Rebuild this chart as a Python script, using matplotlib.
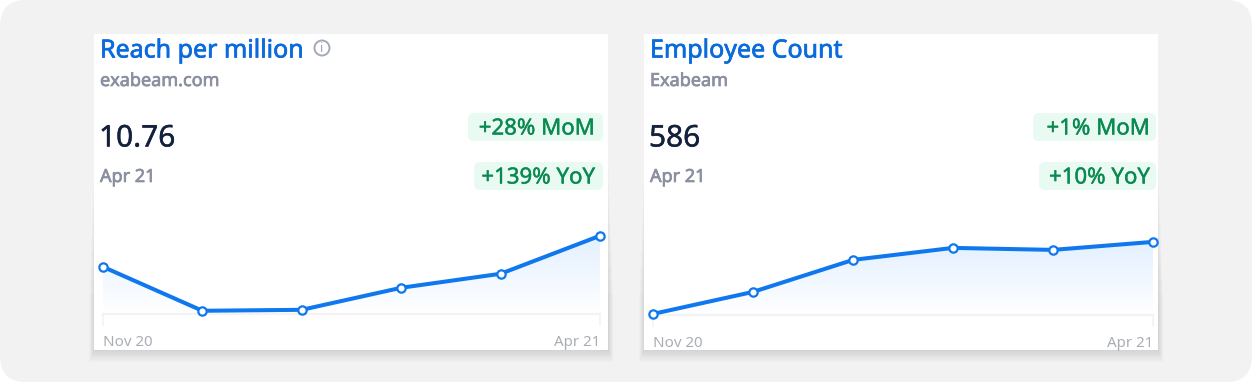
import matplotlib
matplotlib.use('Agg')
import matplotlib.pyplot as plt
import matplotlib.patheffects as pe
from matplotlib.patches import FancyBboxPatch, Rectangle, Circle
from matplotlib.colors import LinearSegmentedColormap
import numpy as np

plt.rcParams['font.family'] = ['Noto Sans', 'DejaVu Sans']

W, H = 1252, 382

months = ['Nov 20', 'Dec 20', 'Jan 21', 'Feb 21', 'Mar 21', 'Apr 21']
reach_values = [8.83, 6.10, 6.16, 7.53, 8.40, 10.76]
employee_values = [532, 548.5, 572.5, 581.5, 580, 586]

BLUE = '#0f78ee'
TITLE_BLUE = '#0a6bdc'
GREY = '#8a90a0'
DARK = '#14213d'
GREEN = '#0a8a50'
BADGE = '#e9faf2'
TICK = '#a9adb6'

fig = plt.figure(figsize=(W / 100, H / 100), dpi=100, facecolor='white')

# full figure axes working in pixels, for the panel, cards and texts
bg = fig.add_axes([0, 0, 1, 1], zorder=0)
bg.set_xlim(0, W)
bg.set_ylim(H, 0)
bg.axis('off')

bg.add_patch(FancyBboxPatch((0, 0), W, H, boxstyle='round,pad=0,rounding_size=26',
                            fc='#f2f2f2', ec='none'))


def draw_card(x0, x1, y0, y1):
    # stacked translucent rects for the soft shadow, it mostly falls below the card
    # each layer starts lower the wider it gets so no step shows on the sides
    for spread in range(10, 0, -1):
        bg.add_patch(Rectangle((x0 - spread * 0.5, y0 + 120 + spread * 14), x1 - x0 + spread,
                               y1 - y0 - 120 - spread * 14 + spread * 1.2,
                               fc='black', ec='none', alpha=0.011))
    bg.add_patch(Rectangle((x0, y0), x1 - x0, y1 - y0, fc='white', ec='none'))


def draw_badge(left, right, top, bottom, text_right, label):
    bg.add_patch(FancyBboxPatch((left, top), right - left, bottom - top,
                                boxstyle='round,pad=0,rounding_size=6', fc=BADGE, ec='none'))
    t = bg.text(text_right, (top + bottom) / 2 - 0.5, label, color=GREEN, fontsize=16, ha='right',
                va='center_baseline')
    t.set_path_effects([pe.withStroke(linewidth=0.3, foreground=GREEN)])


def draw_series(left, right, top, bottom, ymin, ymax, values):
    ax = fig.add_axes([left / W, 1 - bottom / H, (right - left) / W, (bottom - top) / H], zorder=2)
    ax.patch.set_alpha(0)
    x = np.arange(len(values))
    ax.set_xlim(0, len(values) - 1)
    ax.set_ylim(ymin, ymax)

    # gradient under the line
    cmap = LinearSegmentedColormap.from_list('fade', ['#e3f0ff', '#ffffff'])
    grad = np.linspace(0, 1, 100).reshape(-1, 1)
    img = ax.imshow(grad, extent=(0, len(values) - 1, ymin, max(values)), aspect='auto',
                    cmap=cmap, zorder=1)
    poly = ax.fill_between(x, values, ymin, color='none')
    img.set_clip_path(poly.get_paths()[0], ax.transData)
    ax.set_xlim(0, len(values) - 1)
    ax.set_ylim(ymin, ymax)

    ax.plot(x, values, color=BLUE, lw=2.9, marker='o', ms=6.0, mfc='white', mec=BLUE, mew=1.6,
            clip_on=False, zorder=3)

    for side in ['top', 'left', 'right']:
        ax.spines[side].set_visible(False)
    ax.spines['bottom'].set_color('#f3f3f4')
    ax.spines['bottom'].set_linewidth(1.5)
    ax.set_yticks([])
    ax.set_xticks([0, len(values) - 1])
    ax.set_xticklabels([months[0], months[-1]], color=TICK, fontsize=10.9)
    ax.tick_params(axis='x', length=8.5, width=1.2, color='#f3f3f4', pad=6.5)
    labels = ax.get_xticklabels()
    labels[0].set_ha('left')
    labels[1].set_ha('right')
    return ax


def draw_text(x, title, sub, value):
    t = bg.text(x, 48, title, color=TITLE_BLUE, fontsize=18, va='center_baseline')
    t.set_path_effects([pe.withStroke(linewidth=0.5, foreground=TITLE_BLUE)])
    for y, label in [(79, sub), (175, 'Apr 21')]:
        t = bg.text(x, y, label, color=GREY, fontsize=13, va='center_baseline')
        t.set_path_effects([pe.withStroke(linewidth=0.5, foreground=GREY)])
    t = bg.text(x - 1, 135.5, value, color=DARK, fontsize=21.5, va='center_baseline')
    t.set_path_effects([pe.withStroke(linewidth=0.3, foreground=DARK)])


# left card
draw_card(94, 608, 34, 350)
draw_text(100, 'Reach per million', 'exabeam.com', '10.76')
bg.add_patch(Circle((322, 48), 7.5, fc='none', ec='#a3a9b5', lw=1.4))
bg.text(322, 48, 'i', color='#a3a9b5', fontsize=9.5, fontweight='bold', ha='center', va='center')
draw_badge(468, 603, 113, 141, 595, '+28% MoM')
draw_badge(474, 603, 162, 190, 595, '+139% YoY')
draw_series(103, 600, 220, 314, 5.9, 11.74, reach_values)

# right card
draw_card(644, 1158, 34, 350)
draw_text(650, 'Employee Count', 'Exabeam', '586')
draw_badge(1033, 1156, 113, 141, 1150, '+1% MoM')
draw_badge(1039, 1156, 162, 190, 1150, '+10% YoY')
draw_series(653, 1153, 220, 315, 531.2, 602.4, employee_values)

fig.savefig('out.png', dpi=100)
